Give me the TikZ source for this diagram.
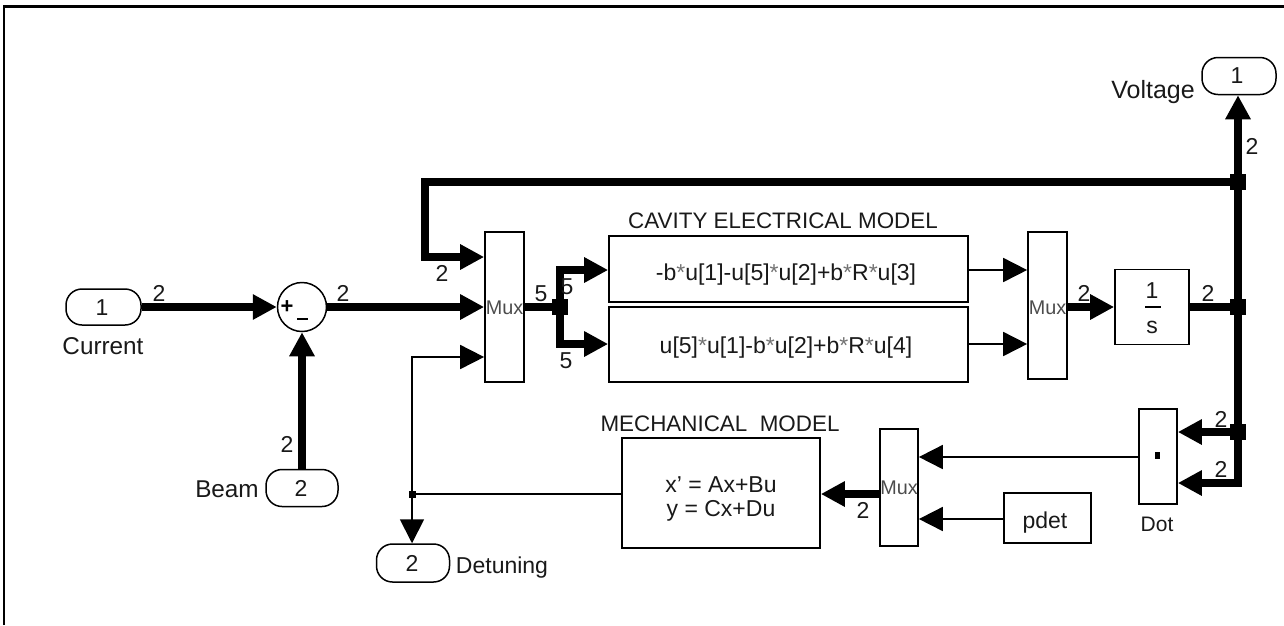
\documentclass[tikz,border=0pt]{standalone}
\usepackage{fontspec}
\setmainfont{Liberation Sans}
\usetikzlibrary{arrows.meta}
\newcommand{\lightast}{{\color{black!55}*}}
\tikzset{
  box/.style={draw=black,line width=1.7pt,fill=white,inner sep=0pt,minimum width=#1},
  port/.style={draw=black,line width=1.5pt,fill=white,rounded corners=16pt,inner sep=0pt},
  txt/.style={anchor=base,inner sep=0pt,font=\fontsize{23}{24}\selectfont,text=black!90},
  ttl/.style={txt,font=\fontsize{22.4}{24}\selectfont},
  lbl/.style={txt,font=\fontsize{24.3}{24}\selectfont},
  sig/.style={txt},
  muxt/.style={inner sep=0pt,font=\fontsize{19.8}{20}\selectfont,text=black!70},
  thin line/.style={line width=1.8pt,draw=black},
  thick line/.style={line width=7.3pt,draw=black},
  tip/.style={-{Triangle[length=24pt,width=24pt]}},
  junction/.style={fill=black,inner sep=0pt,minimum size=16.5pt},
  small junction/.style={fill=black,inner sep=0pt,minimum size=7pt},
  frame/.style={line width=2.2pt,draw=black},
}
\begin{document}
\begin{tikzpicture}[x=1pt,y=-1pt]
\useasboundingbox (0,0) rectangle (1284,625);
% frame
\coordinate (fa) at (4,625); \coordinate (fb) at (4,6.5); \coordinate (fc) at (1284,6.5);
\draw[frame] (fa) -- (fb) -- (fc);

% blocks
\node[port,minimum width=75pt,minimum height=36pt] (cur) at (103.5,307) {};
\node[port,minimum width=72pt,minimum height=37pt] (beam) at (302,488) {};
\node[port,minimum width=74pt,minimum height=37pt] (volt) at (1239,76) {};
\node[port,minimum width=73pt,minimum height=38pt] (det) at (413,563) {};
\node[draw=black,line width=1.5pt,fill=white,circle,inner sep=0pt,minimum size=49pt] (sum) at (302,307) {};
\node[box=39pt,minimum height=150pt] (mux1) at (504.5,307) {};
\node[box=39pt,minimum height=147pt] (mux2) at (1047.5,305.5) {};
\node[box=38pt,minimum height=117pt] (mux3) at (899,487.5) {};
\node[box=359pt,minimum height=66pt] (cav1) at (788.5,269) {};
\node[box=359pt,minimum height=75pt] (cav2) at (788.5,344.5) {};
\node[box=74pt,minimum height=75pt] (integ) at (1152,307) {};
\node[box=38pt,minimum height=95pt] (dotb) at (1158,456.5) {};
\node[box=198pt,minimum height=110pt] (mech) at (721,493) {};
\node[box=87pt,minimum height=50pt] (pdet) at (1047.5,518) {};

% routing points
\coordinate (m1a) at (mux1.west |- 0,257);
\coordinate (m1c) at (mux1.west |- 0,357);
\coordinate (m3a) at (mux3.east |- 0,457);
\coordinate (m3b) at (mux3.east |- 0,519);
\coordinate (m2a) at (mux2.west |- 0,270);
\coordinate (m2b) at (mux2.west |- 0,344);
\coordinate (da) at (dotb.east |- 0,432);
\coordinate (db) at (dotb.east |- 0,483);
\coordinate (cc1) at (cav1.west |- 0,270);
\coordinate (cc2) at (cav2.west |- 0,344);
\coordinate (fbk) at (425,182);
\coordinate (fbk2) at (425,257);
\coordinate (corner) at (1238,483);
\coordinate (up) at (560,270);
\coordinate (dn) at (560,344);
\coordinate (fbl) at (412,357);
\coordinate (ct) at (cav1.east |- 0,270);
\coordinate (cb) at (cav2.east |- 0,344);
\coordinate (m3o) at (mux3.west |- 0,494);
\coordinate (mo) at (mech.east |- 0,494);

% junctions
\node[junction] (j1) at (1238,182) {};
\node[junction] (j2) at (1238,307) {};
\node[junction] (j3) at (1238,432) {};
\node[junction] (j4) at (560,307) {};
\node[small junction] (j5) at (412,494) {};

% thick connectors
\draw[thick line,tip] (cur.east) -- (sum.west);
\draw[thick line,tip] (beam.north) -- (sum.south);
\draw[thick line,tip] (sum.east) -- (mux1.west);
\draw[thick line] (mux1.east) -- (j4.center);
\draw[thick line,tip] (j4.center) -- (up) -- (cc1);
\draw[thick line,tip] (j4.center) -- (dn) -- (cc2);
\draw[thick line,tip] (j1.center) -- (fbk) -- (fbk2) -- (m1a);
\draw[thick line,tip] (mux2.east |- integ.west) -- (integ.west);
\draw[thick line] (integ.east) -- (j2.center);
\draw[thick line,tip] (j1.center) -- (j1 |- volt.south);
\draw[thick line] (j1.center) -- (j3.center);
\draw[thick line,tip] (j3.center) -- (da);
\draw[thick line,tip] (j3.center) -- (corner) -- (db);
\draw[thick line,tip] (m3o) -- (mo);

% thin connectors
\draw[thin line,tip] (ct) -- (m2a);
\draw[thin line,tip] (cb) -- (m2b);
\draw[thin line,tip] (dotb.west |- m3a) -- (m3a);
\draw[thin line,tip] (pdet.west |- m3b) -- (m3b);
\draw[thin line] (mech.west |- j5) -- (j5.center);
\draw[thin line,tip] (j5.center) -- (fbl) -- (m1c);
\draw[thin line,tip] (j5.center) -- (j5 |- det.north);

% port numbers and names
\node[txt] (n1) at (102,315) {1};
\node[txt] (n2) at (301,496) {2};
\node[txt] (n3) at (1237,83) {1};
\node[txt] (n4) at (412,571) {2};
\node[lbl] (tcur) at (103,354) {Current};
\node[lbl] (tbeam) at (227,497) {Beam};
\node[lbl,font=\fontsize{25}{24}\selectfont] (tvolt) at (1153,98) {Voltage};
\node[txt] (tdet) at (502,573) {Detuning};

% sum signs
\node[inner sep=0pt,font=\fontsize{22}{20}\selectfont\bfseries] (plus) at (287,307) {+};
\node[fill=black,inner sep=0pt,minimum width=11pt,minimum height=2pt] (minus) at (302,319) {};

% block texts
\node[muxt] (tm1) at (504.5,308) {Mux};
\node[muxt] (tm2) at (1047.5,308) {Mux};
\node[muxt] (tm3) at (899,488) {Mux};
\node[ttl] (tt1) at (783,228) {CAVITY ELECTRICAL MODEL};
\node[ttl] (tt2) at (720,431) {MECHANICAL\ \ MODEL};
\node[txt] (f1) at (786,280) {-b\lightast u[1]-u[5]\lightast u[2]+b\lightast R\lightast u[3]};
\node[txt] (f2) at (786,353) {u[5]\lightast u[1]-b\lightast u[2]+b\lightast R\lightast u[4]};
\node[txt] (e1) at (721,492) {x' = Ax+Bu};
\node[txt] (e2) at (721,516) {y = Cx+Du};
\node[txt] (tpdet) at (1045,528) {pdet};
\node[txt] (tone) at (1152,298) {1};
\node[fill=black,inner sep=0pt,minimum width=16pt,minimum height=2pt] (bar) at (1152.5,306.5) {};
\node[txt] (ts) at (1152,333) {s};
\node[fill=black,inner sep=0pt,minimum width=5pt,minimum height=7pt] (dotm) at (1157,455) {};
\node[txt,font=\fontsize{21}{24}\selectfont] (tdot) at (1157,531) {Dot};

% signal widths
\node[sig] (s1) at (159,301) {2};
\node[sig] (s2) at (343,301) {2};
\node[sig] (s3) at (287,452) {2};
\node[sig] (s4) at (442,281) {2};
\node[sig] (s5) at (541,301) {5};
\node[sig] (s6) at (567,294) {5};
\node[sig] (s7) at (566,368) {5};
\node[sig] (s8) at (1084,301) {2};
\node[sig] (s9) at (1208,301) {2};
\node[sig] (s10) at (1252,154) {2};
\node[sig] (s11) at (1221,427) {2};
\node[sig] (s12) at (1221,477) {2};
\node[sig] (s13) at (863,518) {2};
\end{tikzpicture}
\end{document}
